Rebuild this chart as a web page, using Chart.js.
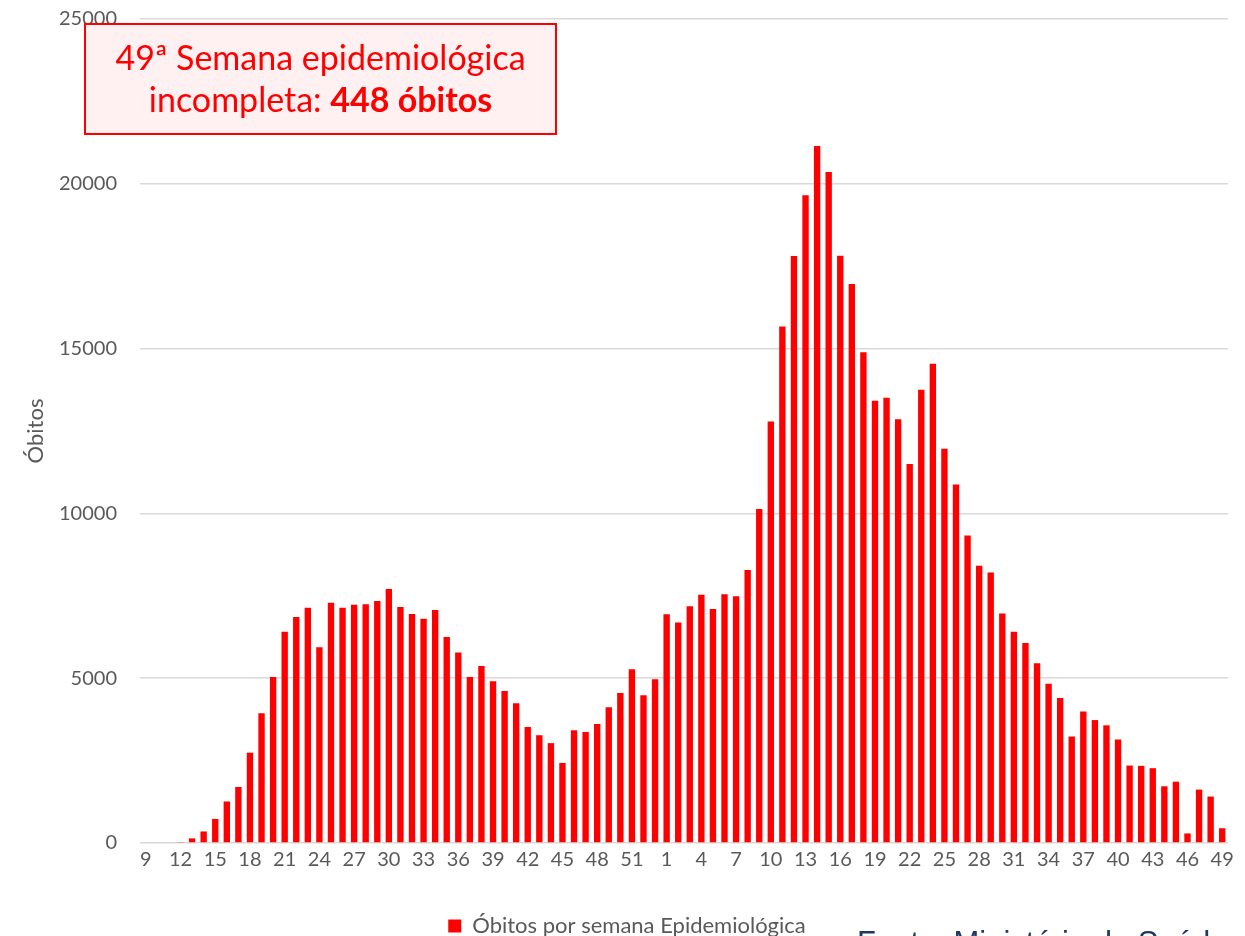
<!DOCTYPE html>
<html>
<head>
<meta charset="utf-8">
<script src="https://cdn.jsdelivr.net/npm/chart.js@4"></script>
<style>
  html, body { margin: 0; padding: 0; background: #fff; }
  #wrap { width: 1245px; height: 936px; position: relative; overflow: hidden; }
</style>
</head>
<body>
<div id="wrap"><canvas id="obitoschart" width="1245" height="936"></canvas></div>
<script>
// semanas epidemiologicas: 2020 (9..53) e 2021 (1..49)
var semanas2020 = ['9','10','11','12','13','14','15','16','17','18','19','20','21','22','23','24','25','26','27','28','29','30','31','32','33','34','35','36','37','38','39','40','41','42','43','44','45','46','47','48','49','50','51','52','53'];
var semanas2021 = ['1','2','3','4','5','6','7','8','9','10','11','12','13','14','15','16','17','18','19','20','21','22','23','24','25','26','27','28','29','30','31','32','33','34','35','36','37','38','39','40','41','42','43','44','45','46','47','48','49'];

var obitos2020 = [0,0,0,30,140,350,730,1260,1700,2740,3940,5040,6410,6860,7140,5940,7290,7140,7230,7240,7340,7710,7160,6950,6800,7070,6250,5780,5040,5370,4910,4610,4240,3520,3270,3030,2430,3420,3370,3610,4120,4550,5270,4480,4970];
var obitos2021 = [6940,6690,7180,7530,7100,7550,7490,8280,10130,12790,15670,17810,19650,21150,20360,17820,16960,14890,13420,13510,12860,11500,13750,14540,11960,10880,9330,8410,8210,6960,6410,6070,5450,4830,4400,3230,3990,3730,3570,3140,2350,2340,2270,1720,1860,290,1620,1410,448];

var yTicks = [0, 5000, 10000, 15000, 20000, 25000];

var labels = semanas2020.concat(semanas2021);
var valores = obitos2020.concat(obitos2021);

var fonte = 'Lato';
var cinza = '#595959';

// caixa de aviso e fonte dos dados
var extras = {
  id: 'extras',
  afterDraw: function(chart) {
    var ctx = chart.ctx;
    ctx.save();
    // caixa
    var bx = 85, by = 24, bw = 471, bh = 110;
    ctx.fillStyle = '#fff1f1';
    ctx.fillRect(bx, by, bw, bh);
    ctx.strokeStyle = '#ff0000';
    ctx.lineWidth = 2;
    ctx.strokeRect(bx, by, bw, bh);

    var cx = bx + bw / 2;
    ctx.fillStyle = '#ff0000';
    ctx.textBaseline = 'middle';
    ctx.textAlign = 'left';
    var f1 = '34px ' + fonte;
    var f2 = 'bold 34px ' + fonte;
    ctx.font = f1;
    var l1 = '49ª Semana epidemiológica';
    var w1 = ctx.measureText(l1).width;
    ctx.fillText(l1, cx - w1 / 2, 59);

    var a = 'incompleta: ', b = '448 óbitos';
    ctx.font = f1;
    var wa = ctx.measureText(a).width;
    ctx.font = f2;
    var wb = ctx.measureText(b).width;
    var x0 = cx - (wa + wb) / 2;
    ctx.font = f1;
    ctx.fillText(a, x0, 101);
    ctx.font = f2;
    ctx.fillText(b, x0 + wa, 101);

    // fonte
    ctx.font = '31px "Liberation Sans"';
    ctx.fillStyle = '#1f3864';
    ctx.textBaseline = 'alphabetic';
    ctx.fillText('Fonte: Ministério da Saúde', 857, 953);
    ctx.restore();
  }
};

var ctx = document.getElementById('obitoschart');
var grafico = new Chart(ctx, {
  type: 'bar',
  data: {
    labels: labels,
    datasets: [{
      label: 'Óbitos por semana Epidemiológica',
      data: valores,
      backgroundColor: '#ff0000',
      borderWidth: 0,
      barPercentage: 0.55,
      categoryPercentage: 1.0
    }]
  },
  options: {
    responsive: false,
    animation: false,
    layout: { padding: { left: 26, right: 17, top: 19, bottom: -11 } },
    plugins: {
      legend: {
        position: 'bottom',
        labels: {
          font: { family: fonte, size: 22 },
          color: cinza,
          boxWidth: 13,
          boxHeight: 13,
          padding: 3
        }
      },
      tooltip: { enabled: false }
    },
    scales: {
      x: {
        grid: { display: false, drawTicks: false },
        border: { display: false },
        ticks: {
          autoSkip: false,
          maxRotation: 0,
          padding: 5,
          color: cinza,
          font: { family: fonte, size: 20 },
          callback: function(v, i) { return i % 3 === 0 ? labels[i] : ''; }
        },
        afterFit: function(s) { s.height = 69; }
      },
      y: {
        min: 0,
        max: 25000,
        afterBuildTicks: function(s) { s.ticks = yTicks.map(function(v) { return { value: v }; }); },
        grid: { color: '#d9d9d9', lineWidth: 1.5, drawTicks: true, tickLength: 23, tickColor: 'rgba(0,0,0,0)' },
        border: { display: false },
        ticks: {
          padding: 0,
          color: cinza,
          font: { family: fonte, size: 20 },
          callback: function(v) { return String(v); }
        },
        title: {
          display: true,
          text: 'Óbitos',
          color: cinza,
          font: { family: fonte, size: 22 },
          padding: { top: -3, bottom: 0 }
        },
        afterFit: function(s) { s.width = 114; }
      }
    }
  },
  plugins: [extras]
});
</script>
</body>
</html>
